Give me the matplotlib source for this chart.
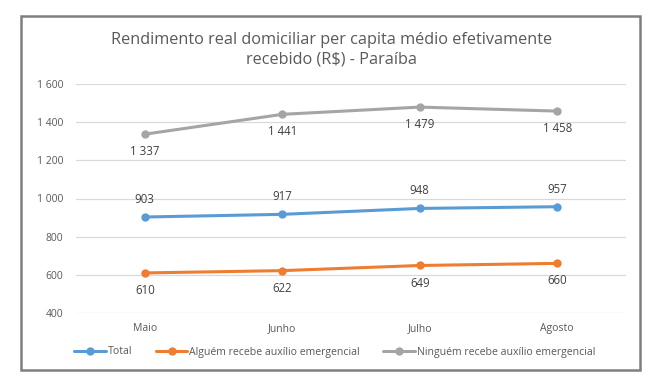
import matplotlib.pyplot as plt
from matplotlib.patches import Rectangle

plt.rcParams['font.family'] = ['Open Sans', 'DejaVu Sans']

meses = ['Maio', 'Junho', 'Julho', 'Agosto']
total = [903, 917, 948, 957]
algum = [610, 622, 649, 660]
ninguem = [1337, 1441, 1479, 1458]
yticks = [400, 600, 800, 1000, 1200, 1400, 1600]

series = [
    ('Total', total, '#5B9BD5', 'above'),
    ('Alguém recebe auxílio emergencial', algum, '#ED7D31', 'below'),
    ('Ninguém recebe auxílio emergencial', ninguem, '#A5A5A5', 'below'),
]


def fmt(v):
    return '{:,}'.format(int(v)).replace(',', ' ')


fig = plt.figure(figsize=(6.63, 3.89), dpi=100)
ax = fig.add_axes([76 / 663, 1 - 313 / 389, 550 / 663, 229 / 389])

x = list(range(len(meses)))
handles = []
for name, vals, color, pos in series:
    ln, = ax.plot(x, vals, color=color, lw=2.2, marker='o', ms=5, label=name,
                  solid_capstyle='round', zorder=3)
    handles.append(ln)
    for xi, v in zip(x, vals):
        dy = 8 if pos == 'above' else -8
        ax.annotate(fmt(v), (xi, v), xytext=(0, dy), textcoords='offset points',
                    ha='center', va='bottom' if pos == 'above' else 'top',
                    fontsize=8.3, color='#404040')

ax.set_xlim(-0.5, len(meses) - 0.5)
ax.set_ylim(400, 1600)
ax.set_yticks(yticks)
ax.set_yticklabels([fmt(v) for v in yticks])
ax.set_xticks(x)
ax.set_xticklabels(meses)
ax.grid(axis='y', color='#D9D9D9', lw=0.9)
ax.set_axisbelow(True)
for s in ax.spines.values():
    s.set_visible(False)
ax.tick_params(length=0, labelsize=7.5, colors='#595959')
ax.tick_params(axis='y', pad=9)
ax.tick_params(axis='x', pad=7)

fig.text(0.5, 1 - 50 / 389, 'Rendimento real domiciliar per capita médio efetivamente\nrecebido (R$) - Paraíba',
         ha='center', va='center', fontsize=11.7, color='#595959', linespacing=1.3)

leg = fig.legend(handles=handles, loc='center', bbox_to_anchor=(0.505, 1 - 352 / 389),
                 ncol=3, frameon=False, fontsize=7.6, handlelength=3, handletextpad=0.2,
                 columnspacing=2.2)
for t in leg.get_texts():
    t.set_color('#595959')

fig.patches.append(Rectangle((21 / 663, 1 - 370 / 389), 619 / 663, 354 / 389,
                             transform=fig.transFigure, fill=False,
                             edgecolor='#7F7F7F', lw=1.8))

fig.savefig('out.png', dpi=100)
